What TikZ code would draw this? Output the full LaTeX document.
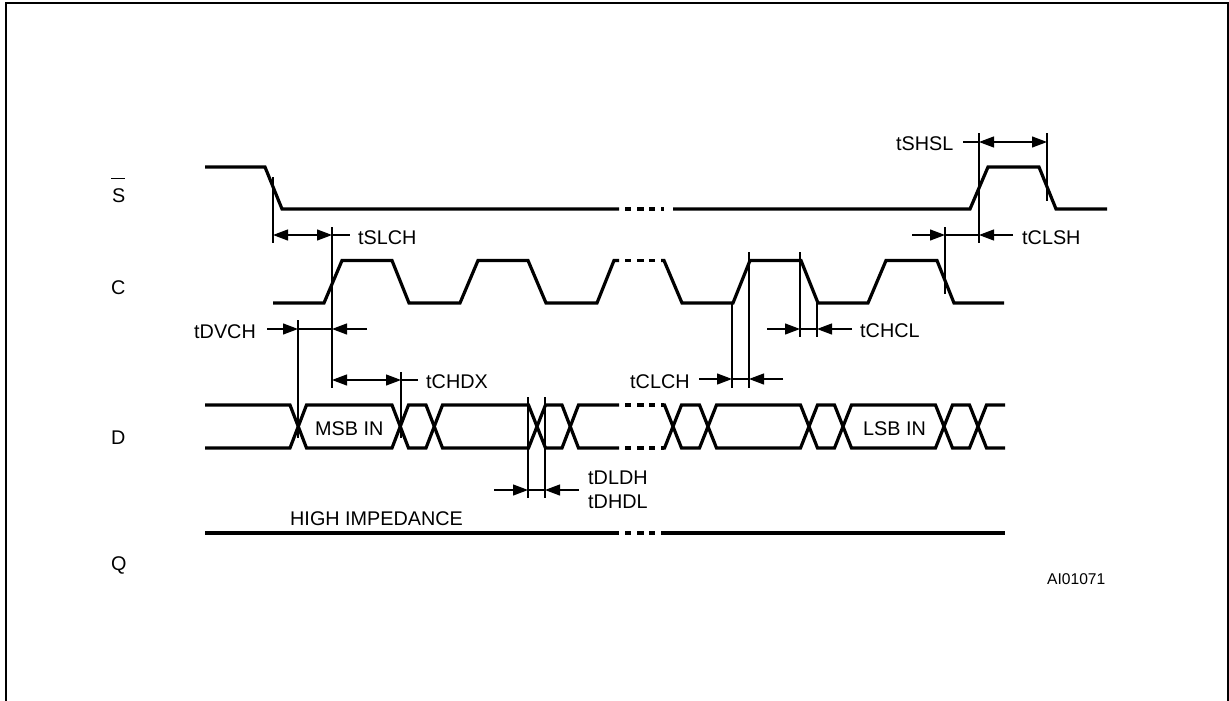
\documentclass[tikz,border=0pt]{standalone}
\usepackage{fontspec}
\setmainfont{Liberation Sans}
\usetikzlibrary{arrows.meta}
\tikzset{
  x=1pt,y=-1pt,
  sig/.style={line width=3.2pt,line join=miter,line cap=butt},
  tickline/.style={line width=1.2pt},
  dim/.style={line width=1.2pt,-{Triangle[length=15pt,width=11pt]}},
  lbl/.style={anchor=base west,inner sep=0pt,font=\fontsize{19.8pt}{22pt}\selectfont},
  frameline/.style={line width=2.4pt},
}
\newcommand{\gapdash}[1]{%
  \foreach \a/\b in {625/631,637/644,649/655,661/664}{\draw[sig] (\a,#1) -- (\b,#1);}%
}
\begin{document}
\begin{tikzpicture}
\useasboundingbox (0,0) rectangle (1229,701);
\fill[white] (0,0) rectangle (1229,701);
% frame
\draw[frameline] (6,701) -- (6,3) -- (1228.5,3) -- (1228.5,701);

% S signal
\draw[sig] (205,167) -- (265,167) -- (282,209) -- (619,209);
\gapdash{209}
\draw[sig] (673,209) -- (970,209) -- (988,167) -- (1039,167) -- (1056,209) -- (1107,209);

% C signal
\draw[sig] (273,303) -- (324,303) -- (342,260.5) -- (392,260.5) -- (409,303) -- (460,303) -- (478,260.5) -- (528,260.5) -- (546,303) -- (597,303) -- (614,260.5) -- (619,260.5);
\gapdash{260.5}
\draw[sig] (661,260.5) -- (664,260.5) -- (682,303) -- (733,303) -- (750,260.5) -- (801,260.5) -- (818,303) -- (868,303) -- (886,260.5) -- (937,260.5) -- (954,303) -- (1004,303);

% D signal, upper and lower rails
\foreach \t/\o in {405/448,448/405}{
  \draw[sig] (205,\t) -- (290,\t) -- (306.5,\o) -- (392,\o) -- (408.5,\t) -- (426,\t) -- (442.5,\o) -- (528.5,\o) -- (545.5,\t) -- (562,\t) -- (578.5,\o) -- (619,\o);
  \draw[sig] (662,\o) -- (664.5,\o) -- (681.5,\t) -- (699.5,\t) -- (716.5,\o) -- (800.5,\o) -- (817.5,\t) -- (834.5,\t) -- (851.5,\o) -- (935.5,\o) -- (952.5,\t) -- (969.5,\t) -- (986.5,\o) -- (1005,\o);
}
\gapdash{405}
\gapdash{448}

% Q signal
\draw[sig] (205,533) -- (619,533);
\gapdash{533}
\draw[sig] (662,533) -- (1005,533);

% verticals
\draw[tickline] (273,177) -- (273,243);
\draw[tickline] (332,227) -- (332,388);
\draw[tickline] (298,320) -- (298,438);
\draw[tickline] (401,372) -- (401,438);
\draw[tickline] (528,397) -- (528,498);
\draw[tickline] (545,397) -- (545,498);
\draw[tickline] (732,303) -- (732,388);
\draw[tickline] (749,252) -- (749,388);
\draw[tickline] (800,252) -- (800,337);
\draw[tickline] (817,303) -- (817,337);
\draw[tickline] (945,227) -- (945,294);
\draw[tickline] (979,133) -- (979,243);
\draw[tickline] (1047,133) -- (1047,201);

% dimension arrows
\coordinate (slchA) at (273,235); \coordinate (slchB) at (332,235); \coordinate (slchE) at (350,235);
\draw[dim] (302,235) -- (slchA);
\draw[dim] (302,235) -- (slchB);
\draw[tickline] (slchB) -- (slchE);

\coordinate (dvchA) at (298,329); \coordinate (dvchB) at (332,329);
\coordinate (dvchL) at (267,329); \coordinate (dvchR) at (367,329);
\draw[dim] (dvchL) -- (dvchA);
\draw[dim] (dvchR) -- (dvchB);
\draw[tickline] (dvchA) -- (dvchB);

\coordinate (chdxA) at (332,380); \coordinate (chdxB) at (401,380); \coordinate (chdxE) at (418,380);
\draw[dim] (366,380) -- (chdxA);
\draw[dim] (366,380) -- (chdxB);
\draw[tickline] (chdxB) -- (chdxE);

\coordinate (dldhA) at (528,490); \coordinate (dldhB) at (545,490);
\draw[dim] (494,490) -- (dldhA);
\draw[dim] (579,490) -- (dldhB);
\draw[tickline] (dldhA) -- (dldhB);

\coordinate (clchA) at (732,379); \coordinate (clchB) at (749,379);
\draw[dim] (699,379) -- (clchA);
\draw[dim] (783,379) -- (clchB);
\draw[tickline] (clchA) -- (clchB);

\coordinate (chclA) at (800,329); \coordinate (chclB) at (817,329);
\draw[dim] (767,329) -- (chclA);
\draw[dim] (852,329) -- (chclB);
\draw[tickline] (chclA) -- (chclB);

\coordinate (clshA) at (945,235); \coordinate (clshB) at (979,235);
\draw[dim] (912,235) -- (clshA);
\draw[dim] (1013,235) -- (clshB);
\draw[tickline] (clshA) -- (clshB);

\coordinate (shslA) at (979,142); \coordinate (shslB) at (1047,142); \coordinate (shslS) at (963,142);
\draw[dim] (1013,142) -- (shslA);
\draw[dim] (1013,142) -- (shslB);
\draw[tickline] (shslS) -- (shslA);

% signal names
\node[lbl] (nS) at (112,202) {S};
\draw[line width=1.3pt] (111,178.5) -- (125,178.5);
\node[lbl] (nC) at (111,294) {C};
\node[lbl] (nD) at (111,444) {D};
\node[lbl] (nQ) at (111,570) {Q};

% timing labels
\node[lbl] (lSLCH) at (358,244) {tSLCH};
\node[lbl] (lDVCH) at (194,338) {tDVCH};
\node[lbl] (lCHDX) at (426,388) {tCHDX};
\node[lbl] (lCLCH) at (630,388) {tCLCH};
\node[lbl] (lCHCL) at (860,337) {tCHCL};
\node[lbl] (lCLSH) at (1022,244) {tCLSH};
\node[lbl] (lSHSL) at (896,150) {tSHSL};
\node[lbl] (lDLDH) at (588,484) {tDLDH};
\node[lbl] (lDHDL) at (588,508) {tDHDL};
\node[lbl] (lHI) at (290,525) {HIGH IMPEDANCE};
\node[lbl] (lMSB) at (315,435) {MSB IN};
\node[lbl] (lLSB) at (863,435) {LSB IN};
\node[lbl,font=\fontsize{15.6pt}{18pt}\selectfont] (lAI) at (1047,584) {AI01071};
\end{tikzpicture}
\end{document}
